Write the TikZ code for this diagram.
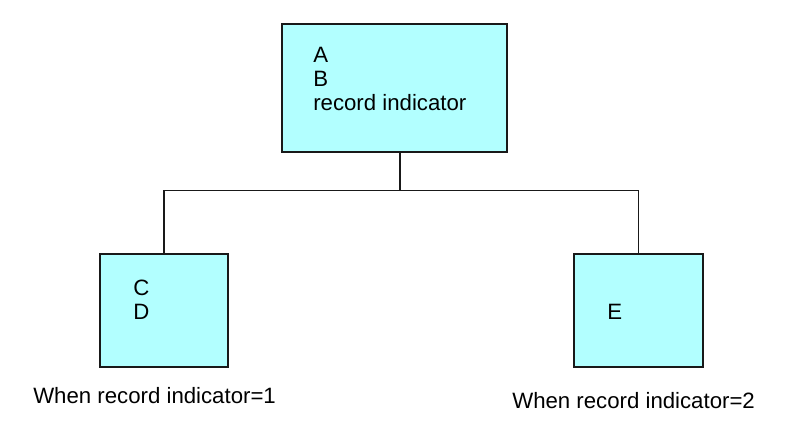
\documentclass[tikz,border=0pt]{standalone}
\usepackage{fontspec}
\setmainfont{Liberation Sans}
\usepackage{tikz}
\usetikzlibrary{
	positioning,
	calc
}
\usepackage{xcolor}
\definecolor{boxcyan}{RGB}{178,255,255}
\definecolor{edgegray}{RGB}{25,25,25}

\begin{document}
\begin{tikzpicture}[
		recbox/.style={draw=edgegray,fill=boxcyan,line width=1.4pt,inner sep=0pt},
		txt/.style={anchor=base west,inner sep=0pt,font=\fontsize{15.8}{18}\selectfont},
		link/.style={draw=edgegray,line width=1.4pt}]
		
		\useasboundingbox (0,0) rectangle (19.825,10.925);
		
		% Parent record
		\node[recbox,minimum width=5.625cm,minimum height=3.2cm] (rec) at (9.8625,8.725){};
		\foreach \t [count=\i] in {A,B,record indicator}
		\node[txt] (rec\i) at (7.825,9.95-0.6*\i){\t};
		
		% Child records
		\node[recbox,minimum width=3.2cm,minimum height=2.825cm] (sub1) at (4.1,3.1625){};
		\foreach \t [count=\i] in {C,D}
		\node[txt] (sub1\i) at (3.325,4.1425-0.6*\i){\t};
		
		\node[recbox,minimum width=3.225cm,minimum height=2.825cm] (sub2) at (15.9625,3.1625){};
		\node[txt] (sub21) at (15.18,2.925){E};
		
		% Tree lines
		\coordinate (split) at (10,6.1625);
		\draw[link] (rec.south -| split)--(split);
		\draw[link] (split) -| (sub1.north);
		\draw[link] (split) -| (sub2.north);
		
		\node[txt] (cond1) at (0.825,0.825){When record indicator=1};
		\node[txt] (cond2) at (12.8,0.7125){When record indicator=2};
		
	\end{tikzpicture}
\end{document}
